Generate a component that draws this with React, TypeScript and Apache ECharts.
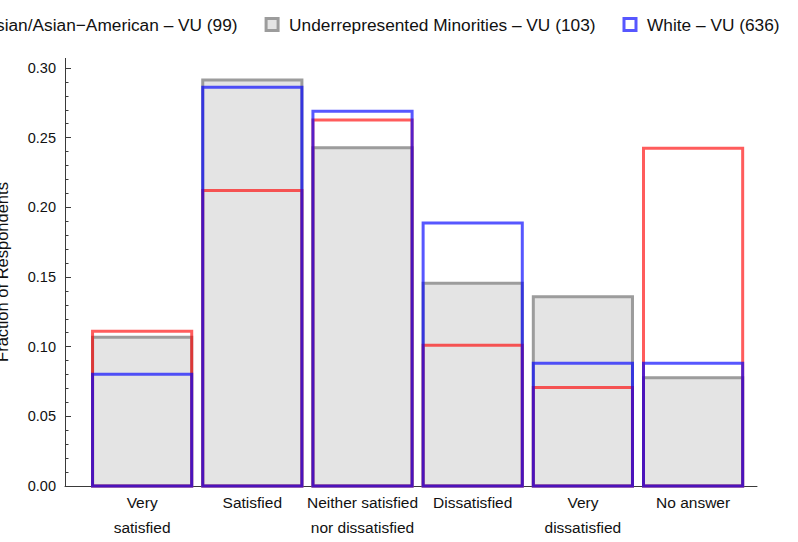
import React, { useEffect, useRef } from "react";
import * as echarts from "echarts";

// ---- data ----
const categories = [
  "Very\nsatisfied",
  "Satisfied",
  "Neither satisfied\nnor dissatisfied",
  "Dissatisfied",
  "Very\ndissatisfied",
  "No answer",
];
const categoryPositions = [1, 2, 3, 4, 5, 6];
const seriesNames = [
  "Asian/Asian\u2212American \u2013 VU (99)",
  "Underrepresented Minorities \u2013 VU (103)",
  "White \u2013 VU (636)",
];
const asianValues = [0.1111, 0.2121, 0.2626, 0.101, 0.0707, 0.2424];
const urmValues = [0.1068, 0.2913, 0.2427, 0.1456, 0.1359, 0.0777];
const whiteValues = [0.0802, 0.2862, 0.2689, 0.1887, 0.0881, 0.0881];
const yTickLabels = ["0.00", "0.05", "0.10", "0.15", "0.20", "0.25", "0.30"];

// ---- styles ----
const FONT = "'Liberation Sans', Arial, Helvetica, sans-serif";
const AXIS_COLOR = "#3a3a3a";
const TEXT_COLOR = "#111";
const RED = "rgba(255,0,0,0.64)";
const GRAY = "#9c9c9c";
const GRAY_FILL = "#e4e4e4";
const BLUE = "rgba(0,0,255,0.66)";
const HALF = 0.45;
const LW = 3;

function makeSeries(name: string, values: number[], stroke: string, fill: string, z: number) {
  return {
    type: "custom",
    name,
    z,
    itemStyle: { color: fill, borderColor: stroke, borderWidth: LW },
    data: values.map((v, i) => [categoryPositions[i], v]),
    encode: { x: 0, y: 1 },
    renderItem: (_params: any, api: any) => {
      const x = api.value(0);
      const v = api.value(1);
      const p0 = api.coord([x - HALF, v]);
      const p1 = api.coord([x + HALF, 0]);
      return {
        type: "rect",
        shape: { x: p0[0], y: p0[1], width: p1[0] - p0[0], height: p1[1] - p0[1] },
        style: { fill, stroke, lineWidth: LW },
      };
    },
  };
}

export default function App() {
  const ref = useRef<HTMLDivElement>(null);
  useEffect(() => {
    if (!ref.current) return;
    const chart = echarts.init(ref.current, null, { renderer: "svg" });
    chart.setOption({
      animation: false,
      textStyle: { fontFamily: FONT },
      grid: { left: 65, right: 41, top: 68, bottom: 56, containLabel: false, outerBoundsMode: "none" },
      legend: {
        left: -45,
        top: 11,
        itemWidth: 12,
        itemHeight: 12,
        itemGap: 27,
        textStyle: { fontSize: 17.3, color: TEXT_COLOR, fontFamily: FONT, padding: [0, 0, 0, 6] },
        data: [
          { name: seriesNames[0], icon: "rect", itemStyle: { color: "#fff", borderColor: RED, borderWidth: LW } },
          { name: seriesNames[1], icon: "rect", itemStyle: { color: GRAY_FILL, borderColor: GRAY, borderWidth: LW } },
          { name: seriesNames[2], icon: "rect", itemStyle: { color: "#fff", borderColor: BLUE, borderWidth: LW } },
        ],
      },
      xAxis: {
        type: "value",
        min: 0.3,
        max: 6.58,
        splitLine: { show: false },
        axisLine: { show: true, onZero: false, lineStyle: { color: AXIS_COLOR, width: 1 } },
        axisTick: {
          show: true,
          inside: true,
          length: 4,
          customValues: categoryPositions,
          lineStyle: { color: AXIS_COLOR },
        },
        axisLabel: {
          customValues: categoryPositions,
          formatter: (v: number) => categories[Math.round(v) - 1] ?? "",
          fontSize: 15.5,
          lineHeight: 25,
          margin: 4,
          color: TEXT_COLOR,
          fontFamily: FONT,
        },
      },
      yAxis: {
        type: "value",
        min: 0,
        max: 0.3,
        interval: 0.05,
        name: "Fraction of Respondents",
        nameLocation: "middle",
        nameGap: 55,
        nameTextStyle: { fontSize: 16.5, color: TEXT_COLOR, fontFamily: FONT, padding: [0, 0, 0, 10] },
        splitLine: { show: false },
        axisLine: { show: true, lineStyle: { color: AXIS_COLOR, width: 1 } },
        axisTick: { show: true, inside: true, length: 6, lineStyle: { color: AXIS_COLOR } },
        minorTick: { show: true, splitNumber: 5, length: 3.5, lineStyle: { color: AXIS_COLOR } },
        axisLabel: {
          formatter: (v: number) => yTickLabels[Math.round(v / 0.05)] ?? "",
          fontSize: 14.5,
          margin: 9,
          color: TEXT_COLOR,
          fontFamily: FONT,
        },
      },
      graphic: [
        {
          type: "line",
          shape: { x1: 65.5, y1: 58, x2: 65.5, y2: 68 },
          style: { stroke: AXIS_COLOR, lineWidth: 1 },
          silent: true,
        },
      ],
      series: [
        makeSeries(seriesNames[0], asianValues, RED, "none", 3),
        makeSeries(seriesNames[1], urmValues, GRAY, GRAY_FILL, 2),
        makeSeries(seriesNames[2], whiteValues, BLUE, "none", 4),
      ],
    });
    return () => chart.dispose();
  }, []);
  return (
    <div
      ref={ref}
      style={{ position: "fixed", left: 0, top: 0, width: 798, height: 542, background: "#fff" }}
    />
  );
}
